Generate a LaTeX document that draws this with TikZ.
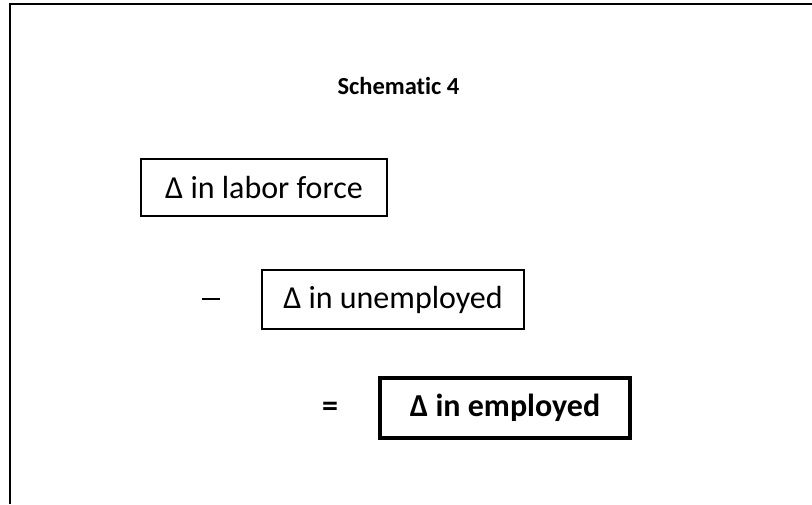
\documentclass[tikz,border=0pt]{standalone}
\usepackage{fontspec}
\setmainfont[Ligatures=NoCommon]{Carlito}
\begin{document}
\begin{tikzpicture}[x=1pt,y=-1pt,
  boxnode/.style={draw=black,line width=2pt,rectangle,inner sep=0pt,font=\fontsize{32}{38}\selectfont},
  signnode/.style={inner sep=0pt,font=\fontsize{32}{38}\selectfont}]
\useasboundingbox (0,0) rectangle (812,504);
\fill[white] (0,0) rectangle (812,504);
\draw[line width=2.5pt] (10,504) -- (10,4) -- (812,4);
\node[inner sep=0pt,font=\bfseries\fontsize{24.5}{29}\selectfont] (title) at (398.5,86) {Schematic 4};
\node[boxnode,minimum width=246pt,minimum height=57pt] (labor) at (264,187.5) {Δ in labor force};
\node[signnode] (minus) at (211,299) {\rule{18pt}{2.2pt}};
\node[boxnode,minimum width=262pt,minimum height=59pt] (unemp) at (393,299.5) {Δ in unemployed};
\node[signnode,font=\bfseries\fontsize{32}{38}\selectfont] (equals) at (330,409) {=};
\node[boxnode,line width=4.5pt,minimum width=250pt,minimum height=60pt,font=\bfseries\fontsize{32}{38}\selectfont] (emp) at (505,408) {Δ in employed};
\end{tikzpicture}
\end{document}
